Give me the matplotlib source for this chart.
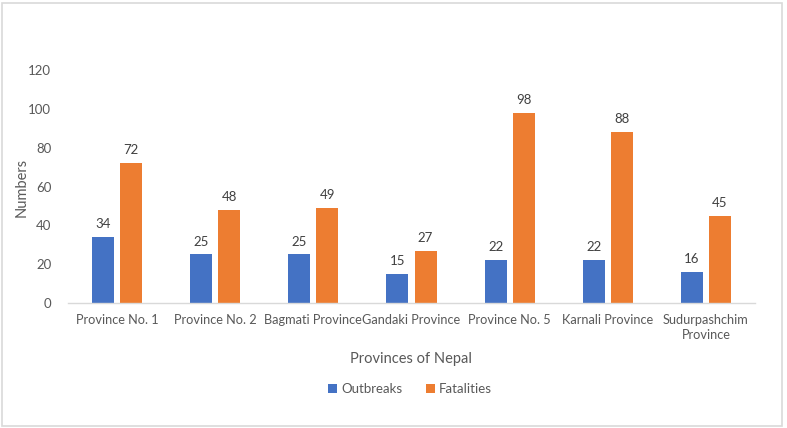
import numpy as np
import matplotlib.pyplot as plt
from matplotlib.patches import Rectangle

# data
provinces = ['Province No. 1', 'Province No. 2', 'Bagmati Province', 'Gandaki Province',
             'Province No. 5', 'Karnali Province', 'Sudurpashchim\nProvince']
outbreaks = [34, 25, 25, 15, 22, 22, 16]
fatalities = [72, 48, 49, 27, 98, 88, 45]

blue = '#4472C4'
orange = '#ED7D31'
txt = '#595959'

plt.rcParams['font.family'] = ['Lato', 'DejaVu Sans']

fig = plt.figure(figsize=(7.87, 4.28), dpi=100)
ax = fig.add_axes([68/787, 1-303/428, 687/787, 233/428])

x = np.arange(len(provinces))
w = 0.224
off = 0.143
b1 = ax.bar(x - off, outbreaks, w, color=blue, label='Outbreaks')
b2 = ax.bar(x + off, fatalities, w, color=orange, label='Fatalities')

for bars, vals in ((b1, outbreaks), (b2, fatalities)):
    for b, v in zip(bars, vals):
        ax.annotate(str(v), (b.get_x() + b.get_width()/2, v), xytext=(0, 5),
                    textcoords='offset points', ha='center', va='bottom',
                    fontsize=9.5, color='#404040')

ax.set_xlim(-0.5, len(provinces) - 0.5)
ax.set_ylim(0, 120)
ax.set_yticks(range(0, 121, 20))
ax.set_xticks(x)
ax.set_xticklabels(provinces, fontsize=9.2, color=txt, linespacing=1.3)
ax.tick_params(axis='y', labelsize=9.5, labelcolor=txt, length=0, pad=12)
ax.tick_params(axis='x', length=0, pad=8)

for s in ['top', 'right', 'left']:
    ax.spines[s].set_visible(False)
ax.spines['bottom'].set_color('#d9d9d9')
ax.spines['bottom'].set_linewidth(1)

fig.text(22/787, 1-187/428, 'Numbers', rotation=90, ha='center', va='center',
         fontsize=10.5, color=txt)
fig.text(411/787, 1-359/428, 'Provinces of Nepal', ha='center', va='center',
         fontsize=10.5, color=txt)

fig.legend(loc='center', bbox_to_anchor=(410/787, 1-389/428), ncol=2, frameon=False,
           fontsize=9.5, labelcolor=txt, handlelength=0.7, handleheight=0.7,
           handletextpad=0.3, columnspacing=1.8)

fig.patches.append(Rectangle((0.002, 0.004), 0.992, 0.99, transform=fig.transFigure,
                             fill=False, edgecolor='#d9d9d9', linewidth=1.2))

fig.savefig('out.png', dpi=100)
